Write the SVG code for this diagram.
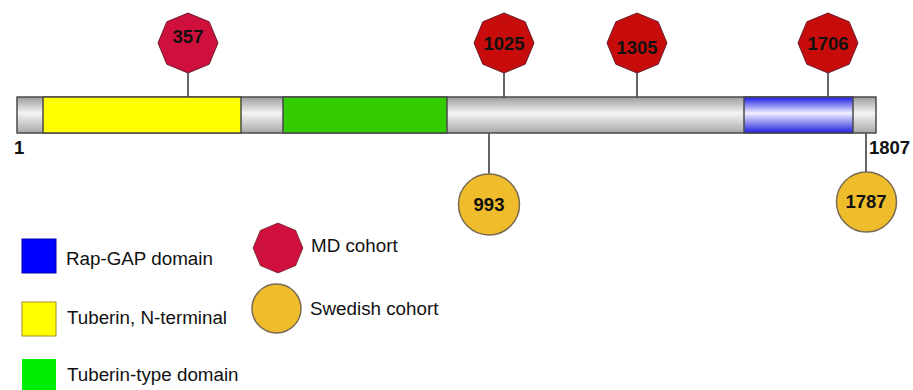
<svg xmlns="http://www.w3.org/2000/svg" width="913" height="390" viewBox="0 0 913 390">
<defs>
<linearGradient id="gGray" x1="0" y1="0" x2="0" y2="1">
<stop offset="0" stop-color="#9c9c9c"/>
<stop offset="0.45" stop-color="#f4f4f4"/>
<stop offset="1" stop-color="#a8a8a8"/>
</linearGradient>
<linearGradient id="gBlue" x1="0" y1="0" x2="0" y2="1">
<stop offset="0" stop-color="#1a1ae6"/>
<stop offset="0.45" stop-color="#f0f0ff"/>
<stop offset="1" stop-color="#2020e0"/>
</linearGradient>
<polygon id="oct" points="0,-30 21.2,-21.2 30,0 21.2,21.2 0,30 -21.2,21.2 -30,0 -21.2,-21.2"/>
</defs>
<style>
.seg{stroke:#4a4a4a;stroke-width:1.5}
.stem{stroke:#555;stroke-width:1.8;fill:none}
.md{stroke:#6a2030;stroke-width:1}
.sw{fill:#efbd2c;stroke:#7a6a50;stroke-width:1.5}
.num{font-family:"Liberation Sans",Arial,sans-serif;font-weight:bold;font-size:18.5px;fill:#111;text-anchor:middle}
.end{font-family:"Liberation Sans",Arial,sans-serif;font-weight:bold;font-size:18.5px;fill:#111}
.lg{font-family:"Liberation Sans",Arial,sans-serif;font-size:18.8px;fill:#111}
</style>

<g id="connectors">
<line class="stem" x1="188" y1="73" x2="188" y2="97"/>
<line class="stem" x1="504" y1="73" x2="504" y2="97"/>
<line class="stem" x1="637" y1="73" x2="637" y2="97"/>
<line class="stem" x1="828" y1="73" x2="828" y2="97"/>
<line class="stem" x1="489" y1="133" x2="489" y2="174"/>
<line class="stem" x1="866" y1="133" x2="866" y2="172"/>
</g>

<g id="protein">
<rect class="seg" x="17" y="97" width="859" height="36" fill="url(#gGray)"/>
<rect class="seg" x="43" y="97" width="198" height="36" fill="#ffff00"/>
<rect class="seg" x="283" y="97" width="164" height="36" fill="#33cc00"/>
<rect class="seg" x="744" y="97" width="109" height="36" fill="url(#gBlue)"/>
</g>

<g id="label-1"><text class="end" x="14" y="154">1</text></g>
<g id="label-1807"><text class="end" x="869" y="154">1807</text></g>

<g id="md-357"><use href="#oct" class="md" fill="#d0103c" transform="translate(188,43)"/><text class="num" x="188" y="43">357</text></g>
<g id="md-1025"><use href="#oct" class="md" fill="#c80c0c" transform="translate(504,43)"/><text class="num" x="504" y="50">1025</text></g>
<g id="md-1305"><use href="#oct" class="md" fill="#c80c0c" transform="translate(637,43)"/><text class="num" x="637" y="54">1305</text></g>
<g id="md-1706"><use href="#oct" class="md" fill="#c80c0c" transform="translate(828,43)"/><text class="num" x="828" y="50">1706</text></g>

<g id="sw-993"><circle class="sw" cx="489" cy="204.5" r="30.5"/><text class="num" x="489" y="211">993</text></g>
<g id="sw-1787"><circle class="sw" cx="866.5" cy="202" r="30"/><text class="num" x="866" y="208">1787</text></g>

<g id="legend-rapgap"><rect x="22" y="239" width="34" height="34" fill="#0000ff" stroke="#0000aa" stroke-width="1"/><text class="lg" x="66" y="265">Rap-GAP domain</text></g>
<g id="legend-nterm"><rect x="22" y="302" width="34" height="34" fill="#ffff00" stroke="#a09020" stroke-width="1"/><text class="lg" x="67" y="324">Tuberin, N-terminal</text></g>
<g id="legend-tuberin"><rect x="22" y="359" width="34" height="36" fill="#00ee00"/><text class="lg" x="67" y="381">Tuberin-type domain</text></g>
<g id="legend-md"><use href="#oct" class="md" fill="#d0103c" transform="translate(278,248) scale(0.83)"/><text class="lg" x="311" y="252">MD cohort</text></g>
<g id="legend-sw"><circle class="sw" cx="276.5" cy="308.5" r="24.5"/><text class="lg" x="310" y="315">Swedish cohort</text></g>
</svg>
